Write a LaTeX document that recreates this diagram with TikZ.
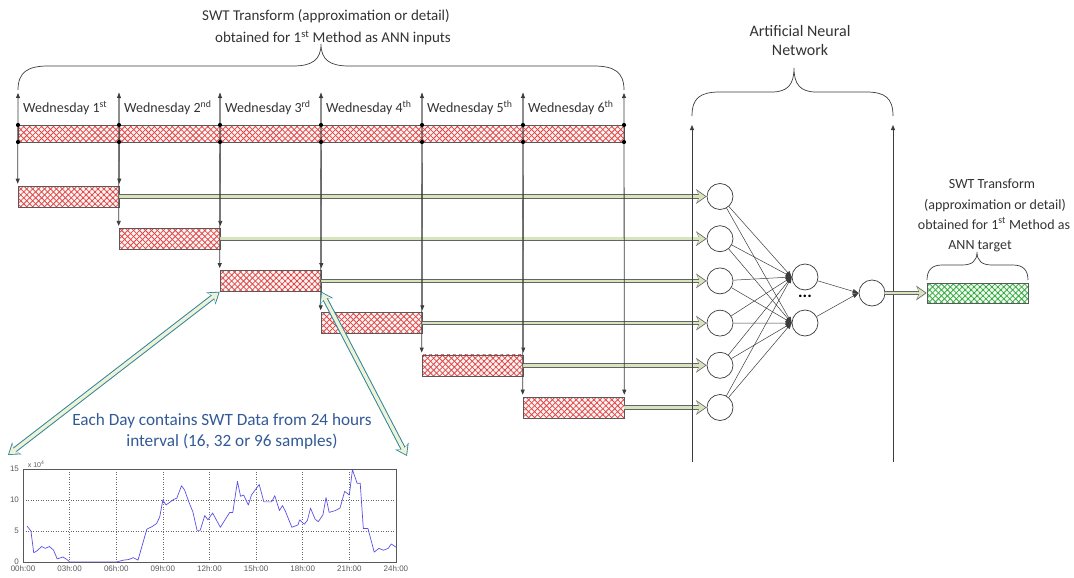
\documentclass[tikz,border=0pt]{standalone}
\usepackage{fontspec}
\setmainfont{Carlito}
\newfontfamily\plotfont{Liberation Sans}
\usetikzlibrary{arrows.meta,patterns.meta,calc}
\definecolor{linegray}{RGB}{60,60,60}
\definecolor{hatchred}{RGB}{225,70,70}
\definecolor{hatchgreen}{RGB}{50,170,60}
\definecolor{arrowfill}{RGB}{215,228,189}
\definecolor{arrowedge}{RGB}{100,100,100}
\definecolor{tealedge}{RGB}{49,133,156}
\definecolor{tealfill}{RGB}{238,242,215}
\definecolor{bluetext}{RGB}{50,90,150}
\definecolor{plotblue}{RGB}{90,80,230}
\definecolor{plotgray}{RGB}{90,90,90}
\tikzset{
  hatch/.style={draw=gray!70!black, line width=0.6pt, inner sep=0pt,
    minimum width=101pt, minimum height=21pt,
    preaction={fill=#1!6},
    preaction={pattern={Lines[angle=45,distance=4.2pt,line width=0.8pt]}, pattern color=#1},
    pattern={Lines[angle=-45,distance=4.2pt,line width=0.8pt]}, pattern color=#1},
  vline/.style={draw=linegray, line width=0.8pt},
  tipboth/.style={vline, {Triangle[length=5pt,width=4pt]}-{Triangle[length=5pt,width=4pt]}},
  tipend/.style={vline, -{Triangle[length=5pt,width=4pt]}},
  neuron/.style={circle, draw=linegray, line width=0.7pt, fill=white, minimum size=26pt, inner sep=0pt},
  conn/.style={draw=linegray, line width=0.5pt, -{Triangle[length=6pt,width=4.5pt]}},
  garrow/.style={draw=arrowfill, line width=2.6pt, shorten >=1.4pt,
    -{Stealth[length=8pt,width=11pt,inset=2.5pt]},
    preaction={draw=arrowedge, line width=4.4pt, shorten >=0pt,
      -{Stealth[length=10.5pt,width=14.5pt,inset=3.2pt]}}},
  tarrow/.style={draw=tealfill, line width=3.4pt, shorten >=1.5pt, shorten <=1.5pt,
    {Stealth[length=8.5pt,width=11.5pt,inset=2.5pt]}-{Stealth[length=8.5pt,width=11.5pt,inset=2.5pt]},
    preaction={draw=tealedge, line width=5.4pt, shorten >=0pt, shorten <=0pt,
      {Stealth[length=11pt,width=15pt,inset=3.2pt]}-{Stealth[length=11pt,width=15pt,inset=3.2pt]}}},
  brace/.style={draw=linegray, line width=0.7pt},
  lbl/.style={font=\fontsize{14pt}{16pt}\selectfont, text=black!80, inner sep=0pt},
  biglbl/.style={font=\fontsize{15pt}{17pt}\selectfont, text=black!80, inner sep=0pt},
  bluelbl/.style={font=\fontsize{17.2pt}{19pt}\selectfont, text=bluetext, inner sep=0pt},
  plotlbl/.style={font=\plotfont\fontsize{8pt}{9pt}\selectfont, text=plotgray, inner sep=0pt},
}
\begin{document}
\begin{tikzpicture}[x=1pt,y=-1pt]
\useasboundingbox (0,0) rectangle (1074,578);

% ---------- title and top brace
\node[biglbl, anchor=base] (title1) at (326,21) {SWT Transform (approximation or detail)};
\node[biglbl, anchor=base] (title2) at (333,43) {obtained for 1\textsuperscript{st} Method as ANN inputs};
\draw[brace] (18,90) .. controls (18,72) and (28,66) .. (48,66) -- (293,66)
   .. controls (312,66) and (321,60) .. (321,44)
   .. controls (321,60) and (330,66) .. (349,66) -- (594,66)
   .. controls (614,66) and (624,72) .. (624,90);

% ---------- band and day boxes
\node[hatch=hatchred, minimum width=606pt, minimum height=17pt] (band) at (321,133.5) {};
\foreach \k in {1,...,6}{
  \node[hatch=hatchred] (b\k) at ({18+101*(\k-1)+50.5},{196.5+42.2*(\k-1)}) {};
}
% input neurons
\foreach \k in {1,...,6}{
  \node[neuron] (i\k) at (720,{196.5+42.2*(\k-1)}) {};
}
% green arrows (under vertical lines)
\foreach \k in {1,...,6}{
  \draw[garrow] (b\k.east) -- (i\k.west);
}

% ---------- vertical day lines
\foreach \k in {1,...,7}{
  \coordinate (t\k) at ({18+101*(\k-1)},93);
}
\draw[tipboth, shorten >=2pt] (t1) -- (b1.north west);
\foreach \k/\p in {2/1,3/2,4/3,5/4,6/5}{
  \draw[tipboth, shorten >=2pt] (t\k) -- (b\k.north west);
  \draw[tipend, shorten >=2pt] (t\k) -- (b\p.north east);
}
\draw[tipboth, shorten >=2pt] (t7) -- (b6.north east);
\foreach \k in {1,...,7}{
  \fill[black] ({18+101*(\k-1)},125) circle (2.1);
  \fill[black] ({18+101*(\k-1)},142) circle (2.1);
}
% day labels
\node[lbl, anchor=base west] (w1) at (23,113) {Wednesday 1\textsuperscript{st}};
\node[lbl, anchor=base west] (w2) at (124,113) {Wednesday 2\textsuperscript{nd}};
\node[lbl, anchor=base west] (w3) at (225,113) {Wednesday 3\textsuperscript{rd}};
\node[lbl, anchor=base west] (w4) at (326,113) {Wednesday 4\textsuperscript{th}};
\node[lbl, anchor=base west] (w5) at (427,113) {Wednesday 5\textsuperscript{th}};
\node[lbl, anchor=base west] (w6) at (528,113) {Wednesday 6\textsuperscript{th}};

% ---------- ANN
\coordinate (a1top) at (692,125);
\coordinate (a1bot) at (692,462);
\coordinate (a2top) at (893,125);
\coordinate (a2bot) at (893,462);
\draw[tipend] (a1bot) -- (a1top);
\draw[tipend] (a2bot) -- (a2top);
\draw[brace] (692,116) .. controls (692,98) and (700,92) .. (720,92) -- (772,92)
   .. controls (788,92) and (794,84) .. (794,68)
   .. controls (794,84) and (800,92) .. (816,92) -- (866,92)
   .. controls (885,92) and (893,98) .. (893,116);
\node[biglbl, font=\fontsize{16pt}{18pt}\selectfont, anchor=base] (ann1) at (800,37) {Artificial Neural};
\node[biglbl, font=\fontsize{16pt}{18pt}\selectfont, anchor=base] (ann2) at (800,56) {Network};

\node[neuron] (h1) at (805,277) {};
\node[neuron] (h2) at (805,323) {};
\node[neuron] (o) at (872,293) {};
\node[inner sep=0pt, font=\bfseries\fontsize{17pt}{17pt}\selectfont] (dots) at (805,296) {...};
\foreach \k in {1,...,6}{
  \draw[conn] (i\k) -- (h1.west);
  \draw[conn] (i\k) -- (h2.west);
}
\draw[conn] (h1) -- (o.west);
\draw[conn] (h2) -- (o.west);

% target
\node[hatch=hatchgreen, minimum height=20pt] (tg) at (977.5,293) {};
\draw[garrow] (o.east) -- (tg.west);
\draw[brace] (927,280) .. controls (927,270) and (932,265) .. (942,265) -- (962,265)
   .. controls (972,265) and (977,261) .. (977,252)
   .. controls (977,261) and (982,265) .. (992,265) -- (1013,265)
   .. controls (1023,265) and (1028,270) .. (1028,280);
\node[lbl, anchor=base] (r1) at (992,188) {SWT Transform};
\node[lbl, anchor=base] (r2) at (995,209) {(approximation or detail)};
\node[lbl, anchor=base] (r3) at (994,229) {obtained for 1\textsuperscript{st} Method as};
\node[lbl, anchor=base] (r4) at (980,249) {ANN target};

% ---------- zoom arrows and text
\coordinate (zl) at (8,455);
\coordinate (zr) at (407,456);
\draw[tarrow] (b3.south west) -- (zl);
\draw[tarrow] (b3.south east) -- (zr);
\node[bluelbl, anchor=base] (bt1) at (222,425) {Each Day contains SWT Data from 24 hours};
\node[bluelbl, anchor=base] (bt2) at (232,446) {interval (16, 32 or 96 samples)};

% ---------- plot
\begin{scope}
\clip (0,450) rectangle (414,578);
\begin{scope}[shift={(23,562)}, x=15.54pt, y=6.2pt]
  \foreach \h in {3,6,...,21}{
    \draw[gray!80!black, line width=0.5pt, dotted] (\h,0) -- (\h,15);
  }
  \foreach \v in {5,10}{
    \draw[gray!80!black, line width=0.5pt, dotted] (0,\v) -- (24,\v);
  }
  \draw[plotblue, line width=0.7pt, line join=round] plot coordinates {
   (0.26,5.8) (0.51,5.0) (0.69,1.5) (0.9,1.8) (1.2,2.5) (1.44,2.2) (1.7,2.5) (1.97,1.9) (2.2,0.5) (2.57,0.8) (2.83,0.4) (3.0,0) (6.0,0) (6.47,0.3) (6.8,0.4) (7.1,0.7) (7.4,0.3) (7.97,5.3) (8.3,5.7) (8.6,6.2) (8.8,7.3) (9.0,10.0) (9.2,9.2) (9.7,10.1) (9.9,10.3) (10.2,12.3) (10.4,11.6) (10.7,9.5) (10.93,8.1) (11.2,5.1) (11.4,5.1) (11.7,7.5) (11.9,6.8) (12.2,7.9) (12.7,5.6) (13.3,8.0) (13.5,8.0) (13.8,13.0) (14.0,10.6) (14.2,10.8) (14.5,9.2) (14.7,10.8) (15.2,12.5) (15.5,9.7) (16.0,9.7) (16.2,10.7) (16.5,8.3) (16.7,9.1) (16.9,8.1) (17.3,5.6) (17.7,6.0) (17.8,6.8) (18.1,6.1) (18.3,6.7) (18.5,8.7) (18.8,6.9) (19.0,6.5) (19.3,7.6) (19.5,10.4) (19.7,8.0) (20.1,8.3) (20.4,8.7) (20.7,11.4) (21.0,10.8) (21.2,14.9) (21.5,12.7) (21.7,12.7) (21.9,5.4) (22.2,5.4) (22.4,3.5) (22.6,1.6) (22.9,2.2) (23.2,1.9) (23.5,2.2) (23.7,2.9) (24.0,2.4)};
  \draw[gray!70!black, line width=0.7pt] (0,0) rectangle (24,15);
  \foreach \h/\t in {0/00h:00,3/03h:00,6/06h:00,9/09h:00,12/12h:00,15/15h:00,18/18h:00,21/21h:00,24/24h:00}{
    \node[plotlbl, anchor=north] at (\h,-0.6) {\t};
  }
  \foreach \v in {0,5,10,15}{
    \node[plotlbl, anchor=east] at (-0.25,\v) {\v};
  }
  \node[plotlbl, anchor=south west, font=\plotfont\fontsize{7pt}{8pt}\selectfont] at (0.3,15.2) {x 10\textsuperscript{4}};
\end{scope}
\end{scope}
\end{tikzpicture}
\end{document}
